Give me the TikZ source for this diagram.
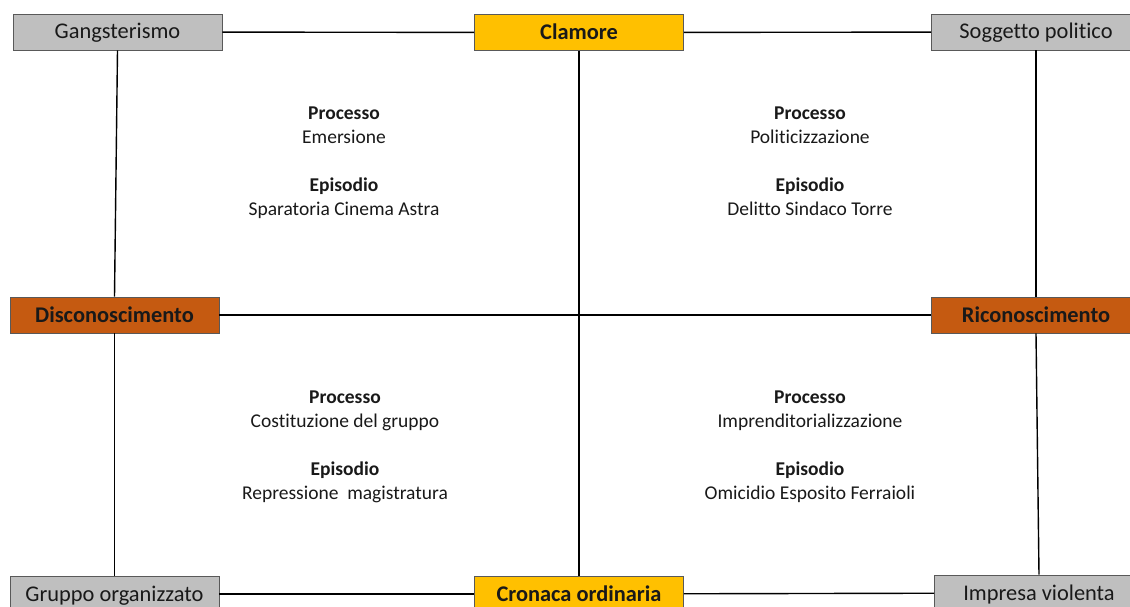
\documentclass[tikz,border=0pt]{standalone}
\usepackage{fontspec}
\setmainfont{Carlito}[Ligatures=NoCommon]
\definecolor{boxgray}{HTML}{BFBFBF}
\definecolor{boxgold}{HTML}{FFC000}
\definecolor{boxrust}{HTML}{C55A11}
\definecolor{boxline}{HTML}{595959}
\begin{document}
\begin{tikzpicture}
[   x=1pt,y=-1pt,
    bnode/.style={draw=boxline,line width=0.9pt,fill=#1,minimum width=209pt,minimum height=36pt,inner sep=0pt,text height=16pt,text depth=2pt,text=black!90,font=\fontsize{22.4}{26}\selectfont},
    tnode/.style={align=center,text=black!90,font=\fontsize{19.5}{24}\selectfont},
    link/.style={line width=1.4pt},
]
    \useasboundingbox (0,0) rectangle (1130,607);
    % corners and sides of the square
    \node[bnode=boxgray] (gang) at (117.5,32) {Gangsterismo};
    \node[bnode=boxgold] (clam) at (579,32.5) {\textbf{Clamore}};
    \node[bnode=boxgray] (sogg) at (1036,32) {Soggetto politico};
    \node[bnode=boxrust] (disc) at (114.5,315) {\textbf{Disconoscimento}};
    \node[bnode=boxrust] (rico) at (1036,315) {\textbf{Riconoscimento}};
    \node[bnode=boxgray] (grup) at (114.5,594) {Gruppo organizzato};
    \node[bnode=boxgold] (cron) at (579,594) {\textbf{Cronaca ordinaria}};
    \node[bnode=boxgray] (impr) at (1039,593) {Impresa violenta};
    % quadrant texts
    \foreach \x/\y/\p/\e [count=\i] in {%
        344/163/Emersione/Sparatoria Cinema Astra,
        810/163/Politicizzazione/Delitto Sindaco Torre,
        345/447/Costituzione del gruppo/Repressione~ magistratura,
        810/447/Imprenditorializzazione/Omicidio Esposito Ferraioli}
    {   \node[tnode] (q-\i) at (\x,\y) {\strut\textbf{Processo}\\\p\\[24pt]\textbf{Episodio}\\\e\strut};
    }
    % connectors
    \foreach \a/\b in {gang/clam,clam/sogg,disc/rico,grup/cron,cron/impr}
    {   \draw[link] (\a) -- (\b);
    }
    \foreach \a/\b in {gang/disc,disc/grup,clam/cron,sogg/rico,rico/impr}
    {   \draw[link] (\a.south) -- (\b.north);
    }
\end{tikzpicture}
\end{document}
